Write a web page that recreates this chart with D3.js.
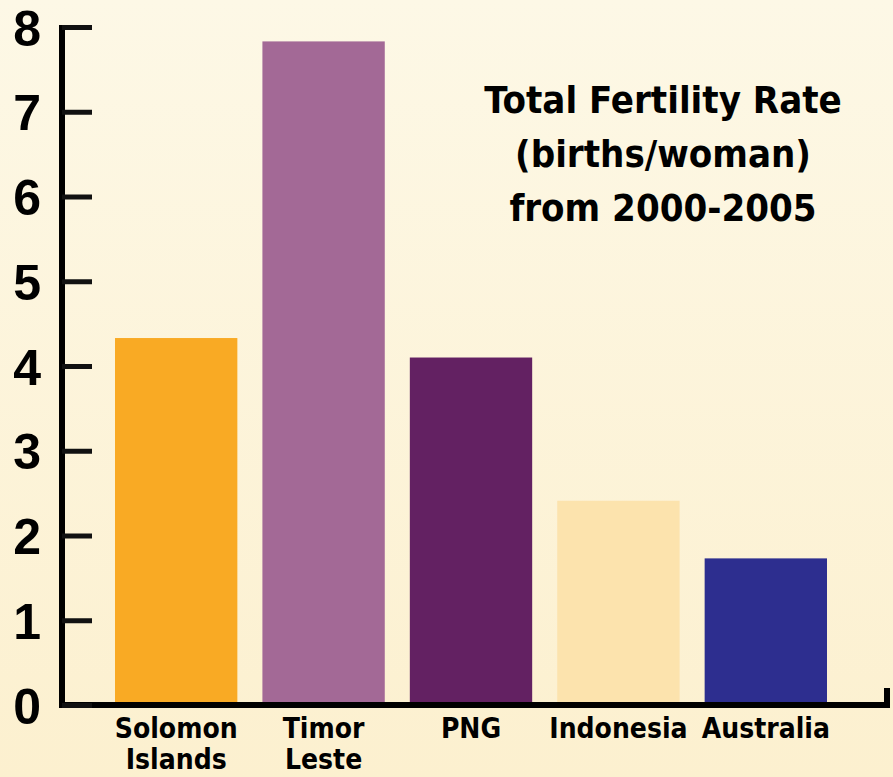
<!DOCTYPE html>
<html>
<head>
<meta charset="utf-8">
<script src="https://cdn.jsdelivr.net/npm/d3@7"></script>
<style>
  html, body { margin: 0; padding: 0; background: #fdf4dc; }
  svg { display: block; }
  .lbl { font-family: "Liberation Sans Narrow", "DejaVu Sans Condensed", "Liberation Sans", sans-serif; font-weight: bold; }
</style>
</head>
<body>
<div id="chart"></div>
<script>
// data
var countries = ["Solomon Islands", "Timor Leste", "PNG", "Indonesia", "Australia"];
var fertility = [4.33, 7.83, 4.1, 2.41, 1.73];
var barColors = ["#f9aa24", "#a36996", "#632162", "#fce3ad", "#2d2e8f"];
var yTicks = [0, 1, 2, 3, 4, 5, 6, 7, 8];
var titleLines = ["Total Fertility Rate", "(births/woman)", "from 2000-2005"];

var W = 893, H = 777;
var margin = {top: 27, right: 3, bottom: 72, left: 62},
    width = W - margin.left - margin.right,
    height = H - margin.top - margin.bottom;

var svg = d3.select("#chart").append("svg")
    .attr("width", W)
    .attr("height", H);

var grad = svg.append("defs").append("linearGradient")
    .attr("id", "bg").attr("x1", 0).attr("y1", 0).attr("x2", 0).attr("y2", 1);
grad.append("stop").attr("offset", "0%").attr("stop-color", "#fdf8e6");
grad.append("stop").attr("offset", "100%").attr("stop-color", "#fcf0cf");

svg.append("rect").attr("width", W).attr("height", H).attr("fill", "url(#bg)");

var g = svg.append("g")
    .attr("transform", "translate(" + margin.left + "," + margin.top + ")");

var y = d3.scaleLinear()
    .domain([0, 8])
    .range([height, 0]);

var x = d3.scaleBand()
    .domain(countries)
    .range([53, 765])
    .paddingInner(0.17)
    .paddingOuter(0);

// bars
g.selectAll("rect.bar")
    .data(countries)
  .enter().append("rect")
    .attr("class", "bar")
    .attr("x", function(d) { return x(d); })
    .attr("width", x.bandwidth())
    .attr("y", function(d, i) { return y(fertility[i]); })
    .attr("height", function(d, i) { return y(0) - y(fertility[i]); })
    .attr("fill", function(d, i) { return barColors[i]; });

// x baseline with little upturn at the right end
g.append("path")
    .attr("d", "M-3," + y(0) + "H" + (width - 3) + "V" + (y(0) - 17))
    .attr("fill", "none")
    .attr("stroke", "#000")
    .attr("stroke-width", 6);

// y axis, ticks pointing into the plot
var yAxis = d3.axisLeft(y)
    .tickValues(yTicks)
    .tickSizeInner(-30)
    .tickSizeOuter(0)
    .tickPadding(21)
    .tickFormat(d3.format("d"));

var ya = g.append("g").attr("class", "y axis").call(yAxis);
ya.select(".domain")
    .attr("d", "M0," + (y(8) - 2) + "V" + (y(0) + 3))
    .attr("stroke", "#000")
    .attr("stroke-width", 6);
ya.selectAll(".tick line")
    .attr("stroke", "#111")
    .attr("stroke-width", 5);
ya.selectAll(".tick text")
    .attr("fill", "#000")
    .style("font-family", "'Liberation Sans', Arial, sans-serif")
    .style("font-weight", "bold")
    .style("font-size", "50px")
    .attr("dy", "0.36em");

// category labels, two lines where the name has two words
var xa = g.append("g")
    .attr("transform", "translate(0," + y(0) + ")")
    .call(d3.axisBottom(x).tickSize(0).tickPadding(0));
xa.select(".domain").remove();
xa.selectAll(".tick text").each(function(d) {
  var t = d3.select(this).text(null)
      .attr("class", "lbl")
      .attr("fill", "#000")
      .attr("y", 0)
      .attr("dy", null)
      .style("font-size", "28px");
  d.split(" ").forEach(function(w, i) {
    t.append("tspan").attr("x", 0).attr("y", 33 + i * 31).text(w);
  });
});

// title
var title = svg.append("text")
    .attr("class", "lbl")
    .attr("text-anchor", "middle")
    .attr("x", 663)
    .style("font-size", "38px");
titleLines.forEach(function(s, i) {
  title.append("tspan").attr("x", 663).attr("y", 113 + i * 54).text(s);
});
</script>
</body>
</html>
